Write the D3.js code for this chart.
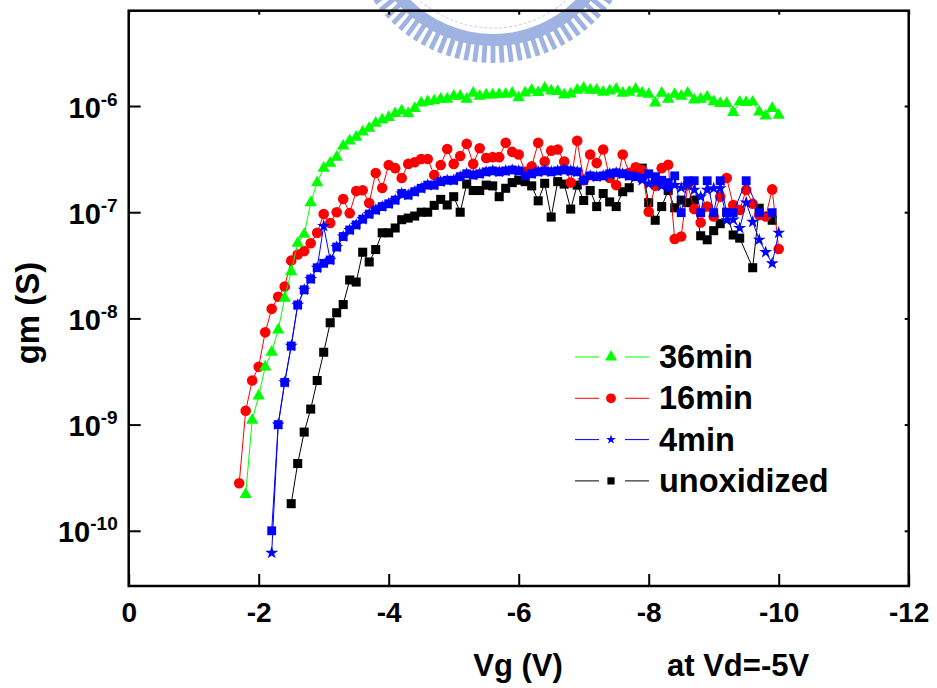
<!DOCTYPE html>
<html>
<head>
<meta charset="utf-8">
<script src="https://cdn.jsdelivr.net/npm/d3@7"></script>
<style>
  body { margin: 0; background: #fff; }
  svg { display: block; }
  text { font-family: "Liberation Sans", Arial, sans-serif; font-weight: bold; fill: #000; }
</style>
</head>
<body>
<div id="chart"></div>
<script>

// gate voltage sweep (V), shared by every curve
const vg = [
    -1.7, -1.8, -1.9, -2.0, -2.1, -2.2, -2.3, -2.4, -2.5, -2.6,
    -2.7, -2.8, -2.9, -3.0, -3.1, -3.2, -3.3, -3.4, -3.5, -3.6,
    -3.7, -3.8, -3.9, -4.0, -4.1, -4.2, -4.3, -4.4, -4.5, -4.6,
    -4.7, -4.8, -4.9, -5.0, -5.1, -5.2, -5.3, -5.4, -5.5, -5.6,
    -5.7, -5.8, -5.9, -6.0, -6.1, -6.2, -6.3, -6.4, -6.5, -6.6,
    -6.7, -6.8, -6.9, -7.0, -7.1, -7.2, -7.3, -7.4, -7.5, -7.6,
    -7.7, -7.8, -7.9, -8.0, -8.1, -8.2, -8.3, -8.4, -8.5, -8.6,
    -8.7, -8.8, -8.9, -9.0, -9.1, -9.2, -9.3, -9.4, -9.5, -9.6,
    -9.7, -9.8, -9.9, -10.0
];

// gm (S), aligned with vg; null = no point
const gm36min = [
    null, 2.2e-10, 1.1e-9, 1.86e-9, 3.5e-9, 4.8e-9, 7.8e-9, 1.55e-8, 2.75e-8, 5.1e-8,
    6.2e-8, 1.23e-7, 1.9e-7, 2.6e-7, 2.9e-7, 3.3e-7, 4.2e-7, 4.7e-7, 5.1e-7, 5.7e-7,
    6.2e-7, 6.9e-7, 7.4e-7, 7.8e-7, 8.5e-7, 9.0e-7, 8.5e-7, 9.5e-7, 1.07e-6, 1.1e-6,
    1.12e-6, 1.16e-6, 1.16e-6, 1.24e-6, 1.24e-6, 1.16e-6, 1.32e-6, 1.24e-6, 1.27e-6, 1.27e-6,
    1.29e-6, 1.29e-6, 1.32e-6, 1.2e-6, 1.33e-6, 1.41e-6, 1.34e-6, 1.47e-6, 1.39e-6, 1.37e-6,
    1.27e-6, 1.3e-6, 1.41e-6, 1.47e-6, 1.41e-6, 1.41e-6, 1.35e-6, 1.39e-6, 1.44e-6, 1.32e-6,
    1.35e-6, 1.44e-6, 1.32e-6, 1.29e-6, 1.07e-6, 1.32e-6, 1.16e-6, 1.29e-6, 1.24e-6, 1.32e-6,
    1.14e-6, 1.16e-6, 1.22e-6, 1.1e-6, 1.06e-6, 1.06e-6, 8.7e-7, 1.09e-6, 1.08e-6, 1.09e-6,
    8.8e-7, 8.05e-7, 9.5e-7, 8.2e-7
];

const gm16min = [
    2.8e-10, 1.35e-9, 2.6e-9, 3.5e-9, 7.4e-9, 1.23e-8, 1.6e-8, 2.0e-8, 3.5e-8, 4.0e-8,
    4.3e-8, 5.1e-8, 6.4e-8, 9.6e-8, 7.9e-8, 1.0e-7, 1.33e-7, 9.8e-8, 1.58e-7, 1.61e-7,
    1.22e-7, 2.34e-7, 1.69e-7, 2.78e-7, 2.6e-7, 2.1e-7, 2.85e-7, 2.95e-7, 3.17e-7, 3.17e-7,
    2.24e-7, 2.78e-7, 3.94e-7, 2.85e-7, 3.38e-7, 4.4e-7, 2.85e-7, 4.0e-7, 3.24e-7, 3.3e-7,
    3.3e-7, 4.5e-7, 3.7e-7, 3.5e-7, 2.4e-7, 2.7e-7, 4.5e-7, 3.0e-7, 3.8e-7, 3.9e-7,
    3.0e-7, 1.9e-7, 4.7e-7, 2.0e-7, 3.5e-7, 2.9e-7, 3.9e-7, 2.1e-7, 1.8e-7, 3.5e-7,
    2.35e-7, 2.65e-7, 2.5e-7, 1.01e-7, 1.77e-7, 2.6e-7, 2.8e-7, 5.6e-8, 5.9e-8, 1.8e-7,
    1.07e-7, 8.0e-8, 1.13e-7, 9.1e-8, 1.4e-7, 2.1e-7, 1.17e-7, 1.05e-7, 1.62e-7, 1.2e-7,
    9.4e-8, 9.1e-8, 1.64e-7, 4.5e-8
];

const gm4min = [
    null, null, null, null, null, 6.2e-11, 1.0e-9, 2.5e-9, 5.5e-9, 1.34e-8,
    1.86e-8, 2.35e-8, 3.0e-8, 7.4e-8, 3.55e-8, 4.7e-8, 5.9e-8, 6.8e-8, 7.6e-8, 8.6e-8,
    9.6e-8, 1.05e-7, 1.13e-7, 1.2e-7, 1.3e-7, 1.5e-7, 1.45e-7, 1.56e-7, 1.68e-7, 1.8e-7,
    1.8e-7, 1.94e-7, 2.0e-7, 2.0e-7, 2.16e-7, 2.3e-7, 2.24e-7, 2.3e-7, 2.4e-7, 2.45e-7,
    2.4e-7, 2.45e-7, 2.5e-7, 2.45e-7, 2.2e-7, 2.3e-7, 2.4e-7, 2.45e-7, 2.4e-7, 2.45e-7,
    2.5e-7, 2.45e-7, 2.4e-7, 2.0e-7, 2.2e-7, 2.16e-7, 2.2e-7, 2.3e-7, 2.35e-7, 2.3e-7,
    2.2e-7, 2.16e-7, 2.0e-7, 1.85e-7, 1.9e-7, 1.77e-7, 1.68e-7, 1.8e-7, 1.7e-7, 1.8e-7,
    1.62e-7, 1.4e-7, 1.62e-7, 1.68e-7, 1.68e-7, 8.4e-8, 8.5e-8, 7.1e-8, 1.23e-7, 8.1e-8,
    5.5e-8, 4.2e-8, 3.3e-8, 6.4e-8
];

// second 4min sweep, drawn with squares and left out of the legend
const gm4minB = [
    null, null, null, null, null, 1.0e-10, 1.0e-9, 2.5e-9, 5.5e-9, 1.34e-8,
    1.86e-8, 2.35e-8, 3.0e-8, 3.3e-8, 3.55e-8, 4.7e-8, 5.9e-8, 6.8e-8, 7.6e-8, 8.6e-8,
    9.6e-8, 1.05e-7, 1.13e-7, 1.2e-7, 1.3e-7, 1.5e-7, 1.45e-7, 1.56e-7, 1.68e-7, 1.8e-7,
    1.8e-7, 1.94e-7, 2.0e-7, 2.0e-7, 2.16e-7, 2.3e-7, 2.24e-7, 2.3e-7, 2.4e-7, 2.45e-7,
    2.4e-7, 2.45e-7, 2.5e-7, 2.45e-7, 2.2e-7, 2.3e-7, 2.4e-7, 2.45e-7, 2.4e-7, 2.45e-7,
    2.5e-7, 2.45e-7, 2.4e-7, 2.0e-7, 2.2e-7, 2.16e-7, 2.2e-7, 2.3e-7, 2.35e-7, 2.3e-7,
    2.2e-7, 2.16e-7, 2.09e-7, 2.3e-7, 2.16e-7, 2.0e-7, 1.9e-7, 2.2e-7, 9.9e-8, 1.98e-7,
    1.98e-7, 9.9e-8, 1.98e-7, 9.9e-8, 1.98e-7, 9.9e-8, 9.9e-8, null, 1.98e-7, null,
    9.9e-8, null, 9.9e-8, null
];

const gmUnoxidized = [
    null, null, null, null, null, null, null, null, 1.8e-10, 4.3e-10,
    8.5e-10, 1.4e-9, 2.6e-9, 4.8e-9, 9.1e-9, 1.13e-8, 1.35e-8, 2.3e-8, 2.2e-8, 4.2e-8,
    3.4e-8, 4.45e-8, 6.4e-8, 6.4e-8, 7.1e-8, 8.5e-8, 8.8e-8, 9.2e-8, 1.0e-7, 1.0e-7,
    1.16e-7, 1.32e-7, 1.17e-7, 1.4e-7, 1.0e-7, 1.84e-7, 1.6e-7, 1.6e-7, 1.8e-7, 1.77e-7,
    1.4e-7, 1.68e-7, 1.9e-7, 2.0e-7, 1.94e-7, 1.77e-7, 1.28e-7, 1.87e-7, 9.0e-8, 1.94e-7,
    1.84e-7, 1.07e-7, 1.8e-7, 1.29e-7, 1.6e-7, 1.13e-7, 1.5e-7, 1.25e-7, 1.13e-7, 1.56e-7,
    1.7e-7, 2.4e-7, 2.6e-7, 1.23e-7, 8.4e-8, 1.13e-7, 1.6e-7, 1.1e-7, 1.3e-7, 1.23e-7,
    1.3e-7, 6.0e-8, 5.5e-8, 6.7e-8, 7.8e-8, 1.0e-7, 6.1e-8, 5.7e-8, null, 3.0e-8,
    1.09e-7, null, 8.4e-8, null
];

const xTicks = [0, -2, -4, -6, -8, -10, -12];
const yTicks = [1e-10, 1e-9, 1e-8, 1e-7, 1e-6];
const legendLabels = ['36min', '16min', '4min', 'unoxidized'];


buildChart();


function buildChart() {

    const width = 937;
    const height = 688;
    const left = 128.7, right = 908.7, top = 10.7, bottom = 586;

    const svg = d3.select('#chart')
        .append('svg')
        .attr('width', width)
        .attr('height', height);

    drawWatermark(svg);

    let x = d3.scaleLinear()
        .domain([0, -12])
        .range([left, right]);

    let y = d3.scaleLog()
        .domain([3.02e-11, 7.9e-6])
        .range([bottom, top]);

    // series, painted back to front
    let series = [
        { values: gmUnoxidized, color: '#000000', symbol: d3.symbolSquare, size: 82 },
        { values: gm16min, color: '#ff0000', symbol: d3.symbolCircle, size: 88 },
        { values: gm4minB, color: '#0000ff', symbol: d3.symbolSquare, size: 78 },
        { values: gm4min, color: '#0000ff', symbol: d3.symbolStar, size: 52 },
        { values: gm36min, color: '#00ff00', symbol: d3.symbolTriangle, size: 66 }
    ];

    let line = d3.line()
        .x((d) => x(d.vg))
        .y((d) => y(d.v));

    series.forEach((s) => {
        let pts = vg.map((v, i) => ({ vg: v, v: s.values[i] }))
            .filter((d) => d.v !== null);
        let g = svg.append('g');

        g.append('path')
            .attr('d', line(pts))
            .attr('fill', 'none')
            .attr('stroke', s.color)
            .attr('stroke-width', 1);

        g.selectAll('path.mark')
            .data(pts)
            .enter()
            .append('path')
            .attr('class', 'mark')
            .attr('d', d3.symbol().type(s.symbol).size(s.size))
            .attr('transform', (d) => `translate(${x(d.vg)},${y(d.v)})`)
            .attr('fill', s.color);
    });

    // axes: ticks point inward
    let xAxis = svg.append('g')
        .attr('transform', `translate(0,${bottom})`)
        .call(d3.axisBottom(x).tickValues(xTicks).tickSizeInner(-12).tickSizeOuter(0).tickFormat(''));

    svg.append('g')
        .attr('transform', `translate(0,${top})`)
        .call(d3.axisTop(x).tickValues(xTicks).tickSizeInner(-4).tickSizeOuter(0).tickFormat(''));

    let yAxis = svg.append('g')
        .attr('transform', `translate(${left},0)`)
        .call(d3.axisLeft(y).tickValues(yTicks).tickSizeInner(-12).tickSizeOuter(0).tickFormat(''));

    svg.append('g')
        .attr('transform', `translate(${right},0)`)
        .call(d3.axisRight(y).tickValues(yTicks).tickSizeInner(-4).tickSizeOuter(0).tickFormat(''));

    svg.selectAll('.domain').remove();
    svg.selectAll('.tick line').attr('stroke', '#000').attr('stroke-width', 2);

    svg.append('rect')
        .attr('x', left)
        .attr('y', top)
        .attr('width', right - left)
        .attr('height', bottom - top)
        .attr('fill', 'none')
        .attr('stroke', '#000')
        .attr('stroke-width', 2.5);

    xAxis.selectAll('.tick')
        .append('text')
        .attr('y', 36)
        .attr('font-size', 28)
        .attr('text-anchor', 'middle')
        .text((d) => String(d));

    let yLabel = yAxis.selectAll('.tick')
        .append('text')
        .attr('x', -11)
        .attr('y', 11)
        .attr('font-size', 29)
        .attr('text-anchor', 'end');

    yLabel.append('tspan').text('10');
    yLabel.append('tspan')
        .attr('font-size', 19)
        .attr('dy', -12)
        .text((d) => String(Math.round(Math.log10(d))));

    // axis titles
    svg.append('text')
        .attr('transform', 'translate(39,313) rotate(-90)')
        .attr('font-size', 33)
        .attr('text-anchor', 'middle')
        .text('gm (S)');

    svg.append('text')
        .attr('x', 518)
        .attr('y', 676)
        .attr('font-size', 31)
        .attr('text-anchor', 'middle')
        .text('Vg (V)');

    svg.append('text')
        .attr('x', 667)
        .attr('y', 676)
        .attr('font-size', 31)
        .text('at Vd=-5V');

    // legend
    let legendItems = [
        { color: '#00ff00', symbol: d3.symbolTriangle, size: 62 },
        { color: '#ff0000', symbol: d3.symbolCircle, size: 75 },
        { color: '#0000ff', symbol: d3.symbolStar, size: 30 },
        { color: '#000000', symbol: d3.symbolSquare, size: 52 }
    ];

    let legend = svg.selectAll('.legend')
        .data(legendItems)
        .enter()
        .append('g')
        .attr('class', 'legend')
        .attr('transform', (d, i) => `translate(575,${357 + i * 41.3})`);

    legend.append('line')
        .attr('x1', 0).attr('x2', 24)
        .attr('stroke', (d) => d.color);

    legend.append('line')
        .attr('x1', 50).attr('x2', 74)
        .attr('stroke', (d) => d.color);

    legend.append('path')
        .attr('d', (d) => d3.symbol().type(d.symbol).size(d.size)())
        .attr('transform', 'translate(36,0)')
        .attr('fill', (d) => d.color);

    legend.append('text')
        .attr('x', 84)
        .attr('y', 11)
        .attr('font-size', 32.5)
        .text((d, i) => legendLabels[i]);
}


function drawWatermark(svg) {

    // faint university seal peeking in at the top edge
    let g = svg.append('g')
        .attr('transform', 'translate(493,-83)')
        .attr('fill', '#8ea6dc')
        .attr('opacity', 0.85);

    let ring = d3.arc()
        .innerRadius(117)
        .outerRadius(129)
        .startAngle(0)
        .endAngle(2 * Math.PI);

    g.append('path').attr('d', ring());

    let teeth = d3.range(0, 360, 3.6);

    g.selectAll('rect')
        .data(teeth)
        .enter()
        .append('rect')
        .attr('x', -2.4)
        .attr('y', 126)
        .attr('width', 4.8)
        .attr('height', 20)
        .attr('transform', (d) => `rotate(${d})`);

    g.append('circle')
        .attr('r', 111)
        .attr('fill', 'none')
        .attr('stroke', '#c9d3ea')
        .attr('stroke-width', 1.2)
        .attr('stroke-dasharray', '3,2');
}
</script>
</body>
</html>
